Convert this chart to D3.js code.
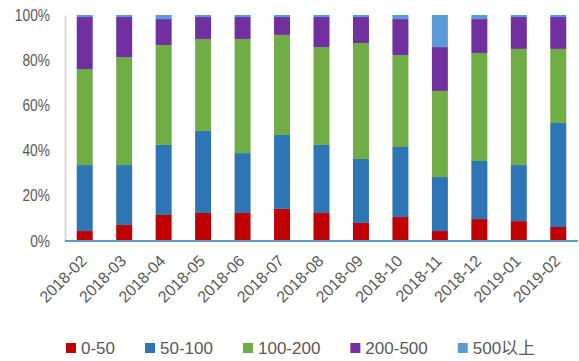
<!DOCTYPE html>
<html>
<head>
<meta charset="utf-8">
<script src="https://cdn.jsdelivr.net/npm/d3@7"></script>
<style>
  html, body { margin: 0; padding: 0; background: #fff; }
  svg { display: block; }
  text { font-family: "Liberation Sans", Arial, "Noto Sans CJK SC", sans-serif; fill: #595959; }
</style>
</head>
<body>
<svg id="chart" width="579" height="361"></svg>
<script>
// Months on the category axis
const months = ["2018-02","2018-03","2018-04","2018-05","2018-06","2018-07","2018-08",
                "2018-09","2018-10","2018-11","2018-12","2019-01","2019-02"];

// Share of each size bucket per month (%)
const s0_50    = [4.4, 7.1, 11.5, 12.4, 12.4, 14.2, 12.4, 8.0, 10.6, 4.4, 9.7, 8.8, 6.2];
const s50_100  = [29.2, 26.5, 31.0, 36.3, 26.5, 32.7, 30.1, 28.3, 31.0, 23.9, 25.7, 24.8, 46.0];
const s100_200 = [42.5, 47.8, 44.2, 40.7, 50.5, 44.3, 43.3, 51.3, 40.7, 38.1, 47.8, 51.4, 32.8];
const s200_500 = [23.0, 17.7, 11.5, 9.7, 9.7, 7.9, 13.3, 11.5, 15.9, 19.4, 15.0, 14.1, 14.1];
const s500up   = [0.9, 0.9, 1.8, 0.9, 0.9, 0.9, 0.9, 0.9, 1.8, 14.2, 1.8, 0.9, 0.9];

const seriesNames = ["0-50", "50-100", "100-200", "200-500", "500以上"];
const seriesColors = ["#C00000", "#2E75B6", "#70AD47", "#7030A0", "#5B9BD5"];
const yTicks = [0, 0.2, 0.4, 0.6, 0.8, 1.0];

const seriesValues = [s0_50, s50_100, s100_200, s200_500, s500up];
const rows = months.map((m, i) => {
  const r = { month: m };
  seriesNames.forEach((k, j) => { r[k] = seriesValues[j][i]; });
  return r;
});

const svg = d3.select("#chart");
const plot = { left: 65, right: 578, top: 15, bottom: 241 };

const x = d3.scaleBand()
  .domain(months)
  .range([plot.left, plot.right])
  .paddingInner(0.595)
  .paddingOuter(0.2975);

const y = d3.scaleLinear().domain([0, 1]).range([plot.bottom, plot.top]);

const stacked = d3.stack()
  .keys(seriesNames)
  .offset(d3.stackOffsetExpand)(rows);

const color = d3.scaleOrdinal().domain(seriesNames).range(seriesColors);

// Stacked bars
svg.append("g")
  .selectAll("g")
  .data(stacked)
  .join("g")
  .attr("fill", d => color(d.key))
  .selectAll("rect")
  .data(d => d)
  .join("rect")
  .attr("x", d => x(d.data.month))
  .attr("width", x.bandwidth())
  .attr("y", d => y(d[1]))
  .attr("height", d => y(d[0]) - y(d[1]));

// Y axis (labels slightly condensed)
const yAxis = svg.append("g")
  .attr("transform", `translate(${plot.left},0)`)
  .call(d3.axisLeft(y).tickValues(yTicks).tickFormat(d3.format(".0%")).tickSize(0).tickPadding(0));
yAxis.select(".domain").attr("stroke", "#D9D9D9").attr("stroke-width", 2);
yAxis.selectAll(".tick text")
  .attr("font-size", 16)
  .attr("fill", "#595959")
  .attr("x", null)
  .attr("transform", "translate(-15,0) scale(0.86,1)");

// X axis baseline and rotated labels
const xAxis = svg.append("g")
  .attr("transform", `translate(0,${plot.bottom})`)
  .call(d3.axisBottom(x).tickSize(0).tickPadding(0));
xAxis.select(".domain").attr("stroke", "#5B9BD5").attr("stroke-width", 2)
  .attr("d", `M${plot.left},0H${plot.right}`);
xAxis.selectAll(".tick text")
  .attr("font-size", 16)
  .attr("fill", "#595959")
  .attr("text-anchor", "end")
  .attr("dy", null)
  .attr("y", null)
  .attr("transform", "translate(3,21) rotate(-45)");

// Legend
const legend = svg.append("g").attr("transform", "translate(66,343)");
let lx = 0;
seriesNames.forEach((name, i) => {
  const item = legend.append("g").attr("transform", `translate(${lx},0)`);
  item.append("rect").attr("width", 10).attr("height", 10).attr("fill", seriesColors[i]);
  const t = item.append("text")
    .attr("x", 15).attr("y", 5).attr("dy", "0.36em")
    .attr("font-size", 17).attr("fill", "#595959")
    .text(name);
  lx += 15 + t.node().getComputedTextLength() + 30;
});
</script>
</body>
</html>
